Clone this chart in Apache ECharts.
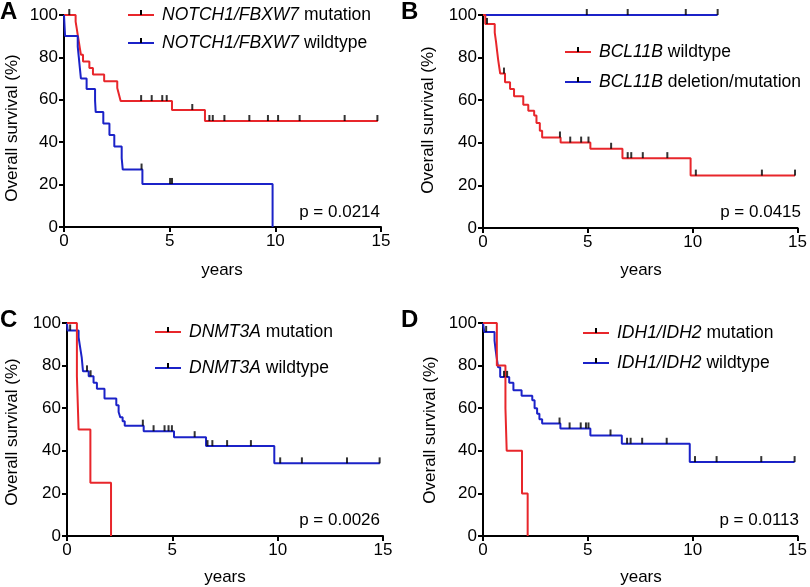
<!DOCTYPE html>
<html><head><meta charset="utf-8">
<script src="https://cdn.jsdelivr.net/npm/echarts@6/dist/echarts.min.js"></script>
<style>html,body{margin:0;padding:0;background:#fff}#c{width:810px;height:587px}</style>
</head><body><div id="c"></div>
<script>
const RED = '#e8262b', BLUE = '#1b22c8';
const FONT = '"Liberation Sans", Arial, sans-serif';
const xTickValues = [0, 5, 10, 15];
const yTickValues = [0, 20, 40, 60, 80, 100];

// Panel A: NOTCH1/FBXW7
const aMutT = [0, 0.55, 0.6, 0.65, 0.7, 0.75, 0.8, 0.9, 1.2, 1.37, 1.9, 2.52, 2.6, 2.68, 5.11, 6.67, 14.85];
const aMutS = [100, 96.9, 93.8, 90.6, 87.5, 84.4, 81.3, 78.1, 75.0, 71.9, 68.8, 65.6, 62.5, 59.4, 55.2, 50.0, 50.0];
const aMutCens = [0.25, 3.65, 4.15, 4.65, 4.86, 6.07, 6.88, 7.04, 7.59, 8.77, 9.65, 10.13, 11.15, 13.28, 14.83];
const aWtT = [0, 0.05, 0.65, 0.7, 0.75, 0.8, 1.07, 1.47, 1.5, 1.86, 2.15, 2.38, 2.73, 2.78, 3.71, 9.87];
const aWtS = [100, 90.1, 85.1, 80.1, 75.1, 70.1, 65.1, 59.6, 54.2, 48.8, 43.4, 38.0, 32.5, 27.1, 20.3, 0];
const aWtCens = [3.67, 5.02, 5.11];

// Panel B: BCL11B
const bWtT = [0, 0.11, 0.56, 0.62, 0.67, 0.72, 0.77, 0.82, 1.05, 1.29, 1.48, 1.92, 2.16, 2.44, 2.55, 2.71, 2.82, 3.7, 5.12, 6.65, 9.9, 14.88];
const bWtS = [100, 95.8, 91.7, 87.5, 83.3, 79.2, 75.8, 72.5, 68.4, 65.2, 61.8, 57.9, 55.1, 52.8, 49.3, 45.7, 42.5, 40.1, 37.2, 32.8, 24.6, 24.6];
const bWtCens = [0.19, 1.0, 3.67, 4.16, 4.68, 5.03, 6.11, 6.9, 7.07, 7.62, 8.79, 10.15, 13.3, 14.88];
const bMutT = [0, 11.19];
const bMutS = [100, 100];
const bMutCens = [4.95, 6.9, 9.67, 11.19];

// Panel C: DNMT3A
const cMutT = [0, 0.47, 0.55, 1.11, 2.09];
const cMutS = [100, 75, 50, 25, 0];
const cWtT = [0, 0.03, 0.55, 0.6, 0.65, 0.7, 0.76, 1.03, 1.26, 1.42, 1.78, 2.34, 2.45, 2.53, 2.64, 2.74, 3.64, 5.08, 6.6, 9.84, 14.85];
const cWtS = [100, 96.5, 93.3, 90.1, 86.9, 83.7, 77.3, 75.0, 71.9, 69.1, 64.5, 61.4, 58.2, 55.7, 53.9, 51.8, 49.2, 46.4, 42.2, 34.1, 34.1];
const cWtCens = [0.15, 0.95, 1.12, 3.6, 4.11, 4.63, 4.82, 4.98, 6.06, 6.67, 6.9, 7.6, 8.73, 10.12, 11.15, 13.29, 14.84];

// Panel D: IDH1/IDH2
const dMutT = [0, 0.66, 1.07, 1.13, 1.86, 2.13];
const dMutS = [100, 80, 60, 40, 20, 0];
const dWtT = [0, 0.06, 0.55, 0.6, 0.66, 0.72, 0.82, 1.25, 1.45, 1.84, 2.35, 2.46, 2.58, 2.69, 2.82, 3.69, 5.12, 6.62, 9.86, 14.86];
const dWtS = [100, 95.8, 91.7, 87.5, 83.3, 79.2, 74.7, 72.0, 68.4, 65.8, 63.7, 60.0, 57.4, 54.8, 52.8, 50.5, 47.2, 43.3, 34.7, 34.7];
const dWtCens = [0.15, 1.0, 1.15, 3.65, 4.13, 4.66, 4.91, 5.03, 6.08, 6.87, 7.04, 7.59, 8.76, 10.11, 11.14, 13.27, 14.86];

const pValues = ['p = 0.0214', 'p = 0.0415', 'p = 0.0026', 'p = 0.0113'];
const panelLetters = ['A', 'B', 'C', 'D'];

function survAt(ts, ss, t) {
  let v = ss[0];
  for (let i = 0; i < ts.length; i++) { if (ts[i] <= t) v = ss[i]; }
  return v;
}
function zip(ts, ss) { return ts.map((t, i) => [t, ss[i]]); }

const grids = [
  { left: 64, top: 15, width: 317, height: 212 },
  { left: 483, top: 15, width: 317, height: 213 },
  { left: 67, top: 323, width: 316, height: 213 },
  { left: 483, top: 323, width: 317, height: 213 }
];

const xAxes = grids.map((g, i) => ({
  gridIndex: i, type: 'value', min: 0, max: 15, interval: 5,
  axisLine: { lineStyle: { color: '#000', width: 2 } },
  axisTick: { length: 5, lineStyle: { color: '#000', width: 2 } },
  axisLabel: { color: '#000', fontSize: 17, fontFamily: FONT, margin: 6 },
  splitLine: { show: false }
}));
const yAxes = grids.map((g, i) => ({
  gridIndex: i, type: 'value', min: 0, max: 100, interval: 20,
  axisLine: { show: true, lineStyle: { color: '#000', width: 2 } },
  axisTick: { show: true, length: 5, lineStyle: { color: '#000', width: 2 } },
  axisLabel: { color: '#000', fontSize: 17, fontFamily: FONT, margin: 6 },
  splitLine: { show: false }
}));

const curves = [
  [0, aMutT, aMutS, aMutCens, RED],
  [0, aWtT, aWtS, aWtCens, BLUE],
  [1, bMutT, bMutS, bMutCens, BLUE],
  [1, bWtT, bWtS, bWtCens, RED],
  [2, cWtT, cWtS, cWtCens, BLUE],
  [2, cMutT, cMutS, [], RED],
  [3, dWtT, dWtS, dWtCens, BLUE],
  [3, dMutT, dMutS, [], RED]
];
const series = [];
curves.forEach(([gi, ts, ss, cens, col]) => {
  series.push({
    type: 'line', xAxisIndex: gi, yAxisIndex: gi, step: 'end', showSymbol: false,
    data: zip(ts, ss), lineStyle: { color: col, width: 2 }, animation: false, z: 3
  });
  if (cens.length) series.push({
    type: 'scatter', xAxisIndex: gi, yAxisIndex: gi,
    data: cens.map(t => [t, survAt(ts, ss, t)]),
    symbol: 'rect', symbolSize: [2, 6], symbolOffset: [0, -3],
    itemStyle: { color: '#000' }, animation: false, z: 4
  });
});

const graphic = [];
function legendItem(x, y, col, gene, rest) {
  graphic.push({ type: 'line', shape: { x1: x, y1: y, x2: x + 26, y2: y }, style: { stroke: col, lineWidth: 2 } });
  graphic.push({ type: 'rect', shape: { x: x + 12, y: y - 5, width: 2, height: 5 }, style: { fill: '#000' } });
  graphic.push({ type: 'text', x: x + 34, y: y, style: {
    text: '{i|' + gene + '} ' + rest, fill: '#000', fontSize: 17.5, fontFamily: FONT, verticalAlign: 'middle',
    rich: { i: { fontStyle: 'italic', fontSize: 17.5, fontFamily: FONT, fill: '#000' } }
  }});
}
legendItem(128, 15, RED, 'NOTCH1/FBXW7', 'mutation');
legendItem(128, 43, BLUE, 'NOTCH1/FBXW7', 'wildtype');
legendItem(565, 52, RED, 'BCL11B', 'wildtype');
legendItem(565, 82, BLUE, 'BCL11B', 'deletion/mutation');
legendItem(155, 332, RED, 'DNMT3A', 'mutation');
legendItem(155, 368, BLUE, 'DNMT3A', 'wildtype');
legendItem(583, 333, RED, 'IDH1/IDH2', 'mutation');
legendItem(583, 363, BLUE, 'IDH1/IDH2', 'wildtype');

const pPos = [[380, 212], [801, 212], [380, 520], [799, 520]];
pPos.forEach((p, i) => graphic.push({ type: 'text', x: p[0], y: p[1], style: {
  text: pValues[i], fill: '#000', fontSize: 17, fontFamily: FONT, align: 'right', verticalAlign: 'middle' } }));

const letterPos = [[0, 12], [401, 12], [0, 320], [401, 320]];
letterPos.forEach((p, i) => graphic.push({ type: 'text', x: p[0], y: p[1], style: {
  text: panelLetters[i], fill: '#000', fontSize: 24, fontWeight: 'bold', fontFamily: FONT, verticalAlign: 'middle' } }));

const yearsPos = [[222, 270], [641, 270], [225, 577], [641, 577]];
yearsPos.forEach(p => graphic.push({ type: 'text', x: p[0], y: p[1], style: {
  text: 'years', fill: '#000', fontSize: 17, fontFamily: FONT, align: 'center', verticalAlign: 'middle' } }));

const yNamePos = [[12, 128], [428, 120], [12, 432], [430, 430]];
yNamePos.forEach(p => graphic.push({ type: 'text', x: p[0], y: p[1], rotation: Math.PI / 2, style: {
  text: 'Overall survival (%)', fill: '#000', fontSize: 17, fontFamily: FONT, align: 'center', verticalAlign: 'middle' } }));

const chart = echarts.init(document.getElementById('c'), null, { renderer: 'canvas' });
chart.setOption({
  animation: false, backgroundColor: '#fff',
  grid: grids, xAxis: xAxes, yAxis: yAxes, series: series, graphic: graphic
});
</script></body></html>
